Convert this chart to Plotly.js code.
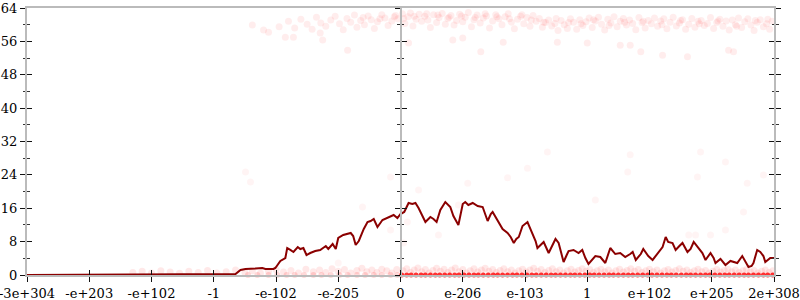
<!DOCTYPE html>
<html><head><meta charset="utf-8">
<script src="https://cdn.plot.ly/plotly-3.0.1.min.js"></script>
<style>html,body{margin:0;padding:0;background:#fff}#chart{width:800px;height:300px}</style>
</head><body><div id="chart"></div>
<script>
// x positions are slots on an ordered scale of doubles; labels below
var tickPositions = [-6,-5,-4,-3,-2,-1,0,1,2,3,4,5,6];
var tickLabels = ["-3e+304","-e+203","-e+102","-1","-e-102","-e-205","0","e-206","e-103","1","e+102","e+205","2e+308"];

var lineX = [-6,-4.34,-2.65,-2.57,-2.49,-2.33,-2.22,-2.17,-2.04,-2.01,-1.93,-1.85,-1.82,-1.77,-1.72,-1.65,-1.61,-1.56,-1.51,-1.45,-1.37,-1.29,-1.2,-1.16,-1.09,-1.04,-1.0,-0.92,-0.8,-0.76,-0.72,-0.67,-0.59,-0.53,-0.48,-0.43,-0.37,-0.29,-0.21,-0.11,-0.05,0,0.06,0.13,0.19,0.24,0.29,0.35,0.4,0.48,0.53,0.58,0.64,0.72,0.8,0.85,0.93,1.0,1.04,1.09,1.16,1.24,1.32,1.4,1.45,1.48,1.56,1.64,1.72,1.77,1.82,1.86,1.9,1.96,2.04,2.12,2.17,2.2,2.25,2.3,2.38,2.44,2.49,2.54,2.6,2.62,2.67,2.7,2.78,2.86,2.92,2.97,3.02,3.08,3.13,3.21,3.29,3.37,3.45,3.53,3.61,3.69,3.73,3.78,3.86,3.9,3.98,4.05,4.13,4.21,4.26,4.3,4.37,4.42,4.48,4.53,4.61,4.66,4.71,4.79,4.85,4.9,4.98,5.03,5.06,5.14,5.22,5.3,5.37,5.41,5.49,5.54,5.59,5.64,5.67,5.73,5.78,5.83,5.86,5.94,6.0];
var lineY = [0,0.12,0.24,1.2,1.44,1.56,1.68,1.44,1.44,1.68,3.36,4.07,6.47,6.0,5.51,6.71,6.23,6.47,4.79,5.27,5.75,6.0,6.95,6.23,7.43,6.23,8.87,9.59,10.07,9.35,7.19,8.15,11.03,12.7,12.94,13.42,11.5,13.18,13.66,14.38,13.66,14.62,15.1,17.26,17.02,17.26,16.06,14.38,12.7,13.9,13.42,12.7,15.58,17.5,16.3,14.14,11.98,17.02,17.5,16.78,17.26,16.54,16.3,12.94,14.62,15.1,13.18,11.03,10.07,9.11,7.67,8.63,9.11,11.74,12.7,9.83,8.15,6.47,7.19,7.91,5.27,7.19,8.63,7.67,4.55,3.12,4.79,5.75,6.0,5.27,6.0,4.07,2.64,3.6,4.55,4.31,2.88,6.47,5.03,5.27,4.31,5.03,5.51,3.6,5.03,6.23,4.55,3.6,5.27,6.71,9.11,7.91,7.67,6.0,6.95,7.67,5.51,6.23,7.91,6.23,5.27,3.6,5.27,4.07,2.88,3.84,2.4,3.36,3.12,2.88,4.55,3.12,1.92,2.16,2.88,6.0,5.51,4.55,3.12,4.07,4.07];

var topBand = [[-1.95,59.5],[-1.8,60.8],[-1.7,59.2],[-1.6,61.3],[-1.5,60.1],[-1.42,58.9],[-1.35,61.8],[-1.28,60.4],[-1.2,59.6],[-1.12,61.1],[-1.05,62.0],[-0.98,60.2],[-0.92,58.8],[-0.86,61.5],[-0.8,60.6],[-0.74,62.3],[-0.7,59.4],[-0.64,61.0],[-0.58,60.0],[-0.52,62.1],[-0.47,61.2],[-0.42,59.1],[-0.37,60.7],[-0.3,62.4],[-0.25,61.6],[-0.2,59.8],[-0.14,60.9],[-0.08,62.2],[-0.04,61.4],[0.03,62.6],[0.07,60.3],[0.12,61.9],[0.16,62.8],[0.2,59.7],[0.25,61.3],[0.3,62.5],[0.34,60.8],[0.39,62.0],[0.44,61.1],[0.48,59.3],[0.53,62.4],[0.58,60.5],[0.62,61.7],[0.67,62.7],[0.72,60.1],[0.76,61.5],[0.81,62.2],[0.86,59.9],[0.9,61.0],[0.95,62.5],[1.0,60.7],[1.04,61.8],[1.09,62.9],[1.14,59.5],[1.18,61.2],[1.23,62.3],[1.28,60.4],[1.33,61.6],[1.38,62.1],[1.43,59.2],[1.48,60.9],[1.53,62.4],[1.58,61.4],[1.63,60.0],[1.68,61.9],[1.73,62.6],[1.78,60.6],[1.83,59.0],[1.88,61.3],[1.93,62.0],[1.98,60.2],[2.03,61.7],[2.08,59.6],[2.13,62.2],[2.18,60.8],[2.23,61.5],[2.28,59.4],[2.33,60.5],[2.38,61.1],[2.43,59.7],[2.48,60.3],[2.53,58.6],[2.58,61.0],[2.63,60.0],[2.68,59.1],[2.73,61.4],[2.78,60.6],[2.83,58.9],[2.88,61.2],[2.93,59.8],[2.98,60.7],[3.03,61.6],[3.08,59.3],[3.13,60.9],[3.18,61.8],[3.23,60.1],[3.28,58.7],[3.33,61.3],[3.38,60.4],[3.43,61.9],[3.48,59.5],[3.53,60.8],[3.58,61.5],[3.63,59.9],[3.68,61.1],[3.73,60.3],[3.78,58.8],[3.83,61.7],[3.88,60.5],[3.93,59.2],[3.98,61.0],[4.03,60.2],[4.08,61.6],[4.13,59.6],[4.18,60.9],[4.23,61.4],[4.28,59.0],[4.33,60.6],[4.38,61.8],[4.43,59.7],[4.48,60.4],[4.53,61.2],[4.58,58.9],[4.63,60.1],[4.68,61.5],[4.73,59.4],[4.78,60.8],[4.83,61.0],[4.88,59.8],[4.93,60.3],[4.98,61.7],[5.03,59.1],[5.08,60.5],[5.13,61.3],[5.18,59.6],[5.23,60.9],[5.28,58.7],[5.33,61.1],[5.38,60.0],[5.43,61.6],[5.48,59.3],[5.53,60.7],[5.58,61.4],[5.63,59.9],[5.68,58.6],[5.73,60.6],[5.78,61.2],[5.83,59.5],[5.88,60.2],[5.93,58.9],[5.97,60.8],
[-0.6,61.7],[-0.33,61.4],[-0.1,61.9],[0.05,61.5],[0.22,62.0],[0.42,62.6],[0.6,62.3],[0.78,61.8],[0.98,62.1],[1.2,61.7],[1.36,62.6],[1.55,61.9],[1.75,61.4],[1.95,62.4],[2.1,61.1],[2.3,60.6],[2.5,61.5],[2.7,60.5],[2.9,60.2],[3.1,61.2],[3.35,59.8],[3.6,60.6],[3.9,60.8],[4.2,60.0],[4.5,61.0],[4.8,60.2],[5.1,60.9],[5.4,59.6],[5.7,61.0],[5.9,61.3],
[-2.38,59.9],[-2.2,58.7],[-2.12,58.2],[-1.85,57.0],[-1.72,57.0],[-1.29,58.0],[-1.25,56.3],[-0.85,53.9],[0.13,55.6],[0.84,56.3],[1.0,56.8],[1.29,53.5],[1.65,55.8],[2.52,55.8],[3.0,55.6],[3.53,55.1],[3.69,55.1],[3.86,53.5],[4.21,52.7],[4.61,52.3],[5.27,53.9],[5.35,53.5]];

var strayPoints = [[-2.49,24.7],[-2.41,22.3],[-0.61,16.3],[-0.16,23.5],[-0.16,10.8],[-1.0,2.9],[2.36,29.5],[2.04,25.6],[1.72,23.3],[1.08,22.0],[0.29,20.4],[0.11,12.7],[0.61,9.6],[0.93,16.8],[3.13,18.0],[0.05,7.7],[3.69,28.8],[3.65,24.7],[4.82,29.5],[5.22,27.1],[4.77,23.5],[5.57,22.0],[5.83,24.0],[5.51,15.1],[5.22,10.8],[4.63,9.6],[4.74,9.6],[4.98,9.6]];

var lowBand = [[-4.3,0.6],[-4.15,0.9],[-4.0,0.5],[-3.85,1.0],[-3.7,0.7],[-3.55,0.4],[-3.4,0.9],[-3.25,0.6],[-3.1,1.1],[-2.95,0.5],[-2.8,0.8],[-2.65,1.2],[-2.5,0.6],[-2.38,1.0],[-2.25,0.4],[-2.12,0.9],[-2.0,1.3],[-1.88,0.7],[-1.76,1.1],[-1.64,0.5],[-1.52,1.4],[-1.4,0.8],[-1.3,1.2],[-1.2,0.6],[-1.1,1.5],[-1.0,0.9],[-0.9,1.3],[-0.8,0.5],[-0.7,1.1],[-0.62,1.6],[-0.54,0.8],[-0.46,1.2],[-0.38,0.6],[-0.3,1.4],[-0.22,1.0],[-0.14,0.5],[-0.06,1.3],
[0.04,1.0],[0.1,1.5],[0.16,0.6],[0.22,1.2],[0.28,1.7],[0.34,0.8],[0.4,1.3],[0.46,0.5],[0.52,1.1],[0.58,1.6],[0.64,0.9],[0.7,1.4],[0.76,0.6],[0.82,1.2],[0.88,1.7],[0.94,0.8],[1.0,1.3],[1.06,0.5],[1.12,1.0],[1.18,1.5],[1.24,0.7],[1.3,1.2],[1.36,1.6],[1.42,0.9],[1.48,1.3],[1.54,0.6],[1.6,1.1],[1.66,1.5],[1.72,0.8],[1.78,1.2],[1.84,0.5],[1.9,1.0],[1.96,1.4],[2.02,0.7],[2.08,1.2],[2.14,1.6],[2.2,0.9],[2.26,1.3],[2.32,0.6],[2.38,1.1],[2.44,1.5],[2.5,0.8],[2.56,1.2],[2.62,0.5],[2.68,1.0],[2.74,1.4],[2.8,0.7],[2.86,1.1],[2.92,1.5],[2.98,0.9],[3.04,1.3],[3.1,0.6],[3.16,1.0],[3.22,1.4],[3.28,0.8],[3.34,1.2],[3.4,0.5],[3.46,1.0],[3.52,1.4],[3.58,0.7],[3.64,1.1],[3.7,1.5],[3.76,0.9],[3.82,1.3],[3.88,0.6],[3.94,1.0],[4.0,1.4],[4.06,0.8],[4.12,1.2],[4.18,0.5],[4.24,1.0],[4.3,1.3],[4.36,0.7],[4.42,1.1],[4.48,1.5],[4.54,0.9],[4.6,1.2],[4.66,0.6],[4.72,1.0],[4.78,1.4],[4.84,0.8],[4.9,1.1],[4.96,0.5],[5.02,0.9],[5.08,1.3],[5.14,0.7],[5.2,1.1],[5.26,1.4],[5.32,0.8],[5.38,1.2],[5.44,0.6],[5.5,1.0],[5.56,1.3],[5.62,0.7],[5.68,1.1],[5.74,0.5],[5.8,0.9],[5.86,1.2],[5.92,0.6],[5.98,1.0]];

var zeroLeftX = [-2.45,-2.3,-2.12,-1.98,-1.83,-1.7,-1.55,-1.4,-1.27,-1.12,-0.98,-0.85,-0.7,-0.57,-0.43,-0.3,-0.16,-0.05];
var zeroRightX = [0.02,0.1,0.17,0.25,0.33,0.4,0.48,0.56,0.63,0.71,0.79,0.87,0.94,1.02,1.1,1.18,1.25,1.33,1.41,1.49,1.56,1.64,1.72,1.8,1.87,1.95,2.03,2.11,2.18,2.26,2.34,2.42,2.49,2.57,2.65,2.73,2.8,2.88,2.96,3.04,3.11,3.19,3.27,3.35,3.42,3.5,3.58,3.66,3.73,3.81,3.89,3.97,4.04,4.12,4.2,4.28,4.35,4.43,4.51,4.59,4.66,4.74,4.82,4.9,4.97,5.05,5.13,5.21,5.28,5.36,5.44,5.52,5.59,5.67,5.75,5.83,5.9,5.98];

function col(a, i){ return a.map(function(p){return p[i];}); }
function pts(xs, ys, fill, size){
  return {x: xs, y: ys, type: 'scatter', mode: 'markers', cliponaxis: false, hoverinfo: 'skip',
    marker: {size: size, color: fill, line: {width: 0}}};
}
var traces = [
  pts(col(topBand,0), col(topBand,1), 'rgba(255,0,0,0.07)', 7),
  pts(col(strayPoints,0), col(strayPoints,1), 'rgba(255,0,0,0.045)', 7),
  pts(col(lowBand,0), col(lowBand,1), 'rgba(255,0,0,0.09)', 7),
  pts(zeroLeftX, zeroLeftX.map(function(){return 0;}), 'rgba(255,0,0,0.15)', 6),
  pts(zeroRightX, zeroRightX.map(function(){return 0;}), 'rgba(255,0,0,0.8)', 5),
  {x: lineX, y: lineY, type: 'scatter', mode: 'lines', hoverinfo: 'skip',
   line: {color: '#8b0000', width: 2}},
  {x: [], y: [], xaxis: 'x2', yaxis: 'y2', type: 'scatter'},
  {x: [], y: [], xaxis: 'x', yaxis: 'y3', type: 'scatter'},
  {x: [], y: [], xaxis: 'x', yaxis: 'y4', type: 'scatter'}
];

var fnt = {family: 'DejaVu Serif', size: 13, color: '#000'};
var xr = [-6, 6], yr = [0, 64];
var noMinor = {ticks: '', showgrid: false};
var yBase = {range: yr, tickmode: 'linear', tick0: 0, dtick: 8, ticklen: 5, tickwidth: 1, tickcolor: '#111',
  showgrid: false, zeroline: false, showline: true, linecolor: '#bbb', linewidth: 2, fixedrange: true};
function yax(extra){ return Object.assign({}, yBase, extra); }

var layout = {
  width: 800, height: 300, margin: {l: 27, r: 26, t: 8, b: 25},
  paper_bgcolor: '#fff', plot_bgcolor: '#fff', showlegend: false, font: fnt,
  xaxis: {range: xr, tickmode: 'array', tickvals: tickPositions, ticktext: tickLabels, ticks: 'outside',
    ticklen: 5, tickwidth: 1, tickcolor: '#111', tickfont: fnt, ticklabeloverflow: 'allow',
    showgrid: false, zeroline: false, minor: noMinor,
    showline: true, linecolor: '#bbb', linewidth: 2, mirror: true, fixedrange: true},
  xaxis2: {range: xr, overlaying: 'x', anchor: 'y', side: 'bottom', tickmode: 'array', tickvals: tickPositions,
    ticktext: tickLabels, ticks: 'inside', ticklen: 5, tickwidth: 1, tickcolor: '#111', showticklabels: false,
    showgrid: false, zeroline: false, showline: false, fixedrange: true, minor: noMinor},
  yaxis: yax({ticks: 'outside', mirror: 'ticks', tickfont: fnt,
    minor: {dtick: 4, ticks: 'outside', ticklen: 2.5, tickcolor: '#333', showgrid: false}}),
  yaxis2: yax({overlaying: 'y', anchor: 'x2', ticks: 'inside', mirror: 'ticks', showticklabels: false,
    minor: {dtick: 4, ticks: 'inside', ticklen: 2.5, tickcolor: '#333', showgrid: false}}),
  yaxis3: yax({overlaying: 'y', anchor: 'free', position: 0.5, side: 'left', ticks: 'outside', showticklabels: false,
    minor: {dtick: 4, ticks: 'outside', ticklen: 2.5, tickcolor: '#333', showgrid: false}}),
  yaxis4: yax({overlaying: 'y', anchor: 'free', position: 0.5, side: 'left', ticks: 'inside', showticklabels: false,
    minor: {dtick: 4, ticks: 'inside', ticklen: 2.5, tickcolor: '#333', showgrid: false}})
};
Plotly.newPlot('chart', traces, layout, {displayModeBar: false, staticPlot: true});
</script></body></html>
